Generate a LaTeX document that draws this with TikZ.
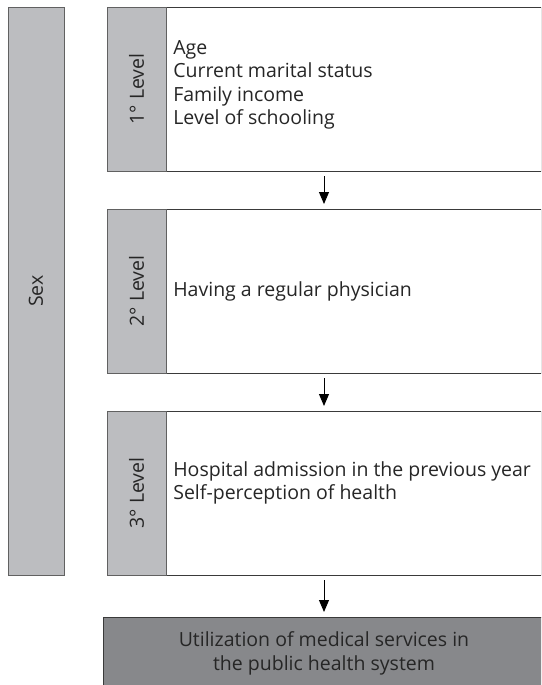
\documentclass[tikz,border=0pt]{standalone}
\usepackage{fontspec}
\setmainfont{Open Sans}
\usepackage{xcolor}
\usepackage{tikz}
\usetikzlibrary{positioning, arrows.meta}

\definecolor{tagGray}{HTML}{BCBDC0}
\definecolor{outGray}{HTML}{87888B}
\definecolor{edgeGray}{HTML}{3A3A3A}

\begin{document}
\begin{tikzpicture}[
    x=1pt, y=-1pt,
    node distance=38pt,
    every node/.style={outer sep=0pt},
    levelbox/.style={draw=edgeGray, line width=0.9pt, fill=white, rectangle, minimum width=434pt, minimum height=164pt},
    leveltag/.style={draw=edgeGray!80, line width=0.9pt, fill=tagGray, rectangle, minimum width=59pt, minimum height=164pt},
    taglabel/.style={rotate=90, font=\fontsize{19.5}{22}\selectfont, text=black!85},
    items/.style={align=left, font=\fontsize{19.5}{23.5}\selectfont, text=black!85, anchor=west},
    outcome/.style={draw=edgeGray, line width=0.9pt, fill=outGray, rectangle, minimum width=442pt, minimum height=73pt, align=center, anchor=north, font=\fontsize{19.5}{24}\selectfont, text=black!85},
    sexbar/.style={draw=edgeGray!80, line width=0.9pt, fill=tagGray, rectangle, minimum width=56pt, minimum height=568pt},
    arrow/.style={line width=0.9pt, -{Triangle[width=10pt, length=12pt]}, shorten <=5pt, shorten >=5pt}
]
\useasboundingbox (0,0) rectangle (541,685);
\clip (0,0) rectangle (541,685);

% confounder on the left
\node[sexbar] (sex) at (36,291) {};
\node[taglabel] at (sex.center) {Sex};

% hierarchical levels
\node[levelbox] (lvlone) at (324,89) {};
\node[levelbox, below=of lvlone] (lvltwo) {};
\node[levelbox, below=of lvltwo] (lvlthree) {};

\node[leveltag, anchor=west] (tagone) at (lvlone.west) {};
\node[leveltag, anchor=west] (tagtwo) at (lvltwo.west) {};
\node[leveltag, anchor=west] (tagthree) at (lvlthree.west) {};

\node[taglabel] at (tagone.center) {1° Level};
\node[taglabel] at (tagtwo.center) {2° Level};
\node[taglabel] at (tagthree.center) {3° Level};

\node[items] (itemsone) at ([xshift=4pt, yshift=4pt]tagone.east) {Age\\Current marital status\\Family income\\Level of schooling};
\node[items] (itemstwo) at ([xshift=4pt]tagtwo.east) {Having a regular physician};
\node[items] (itemsthree) at ([xshift=4pt, yshift=10pt]tagthree.east) {Hospital admission in the previous year\\Self-perception of health};

% outcome
\node[outcome, below=42pt of lvlthree] (util) {Utilization of medical services in\\the public health system};

\draw[arrow] (lvlone) -- (lvltwo);
\draw[arrow] (lvltwo) -- (lvlthree);
\draw[arrow] (lvlthree) -- (util);
\end{tikzpicture}
\end{document}
